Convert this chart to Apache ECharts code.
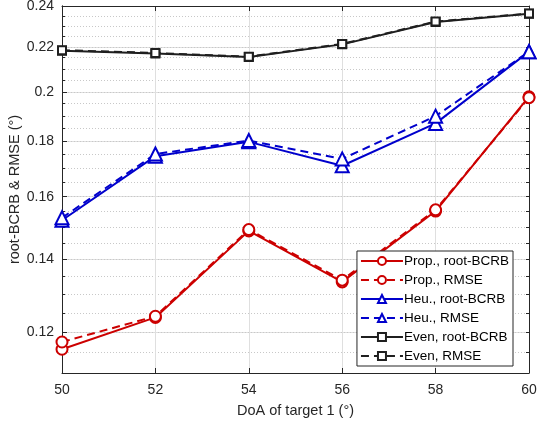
<!DOCTYPE html>
<html><head><meta charset="utf-8">
<script src="https://cdn.jsdelivr.net/npm/echarts@6/dist/echarts.min.js"></script>
<style>html,body{margin:0;padding:0;background:#fff}#c{width:538px;height:425px}</style>
</head><body><div id="c"></div>
<script>
const doa = [50, 52, 54, 56, 58, 60];
const propBCRB = [0.1157, 0.1238, 0.1488, 0.1335, 0.1552, 0.1979];
const propRMSE = [0.1175, 0.1241, 0.1492, 0.1340, 0.1556, 0.1975];
const heuBCRB  = [0.1522, 0.1744, 0.1798, 0.1709, 0.1870, 0.2178];
const heuRMSE  = [0.1530, 0.1752, 0.1803, 0.1734, 0.1899, 0.2178];
const evenBCRB = [0.2182, 0.2170, 0.2153, 0.2212, 0.2320, 0.2361];
const evenRMSE = [0.2185, 0.2172, 0.2155, 0.2214, 0.2322, 0.2362];
const yMajor = [0.12, 0.14, 0.16, 0.18, 0.2, 0.22, 0.24];
const yMinor = [0.115, 0.125, 0.13, 0.135, 0.145, 0.15, 0.155, 0.165, 0.17, 0.175, 0.185, 0.19, 0.195, 0.205, 0.21, 0.215, 0.225, 0.23, 0.235];
const names = ['Prop., root-BCRB','Prop., RMSE','Heu., root-BCRB','Heu., RMSE','Even, root-BCRB','Even, RMSE'];

const RED = '#cc0000', BLUE = '#0000cc', BLK = '#1f1f1f';
const TXT = '#262626';
const FONT = '"Liberation Sans", Arial, sans-serif';
const pair = (ys) => doa.map((x, i) => [x, ys[i]]);
function mk(name, ys, color, dashed, symbol, size) {
  return {
    name, type: 'line', data: pair(ys), xAxisIndex: 0, yAxisIndex: 0,
    symbol, symbolSize: size, showAllSymbol: true,
    lineStyle: { color, width: 2, type: dashed ? [8, 5] : 'solid' },
    itemStyle: { color: '#fff', borderColor: color, borderWidth: 2 },
    emphasis: { disabled: true }, animation: false
  };
}
const chart = echarts.init(document.getElementById('c'), null, { renderer: 'canvas' });
const allY = yMajor.concat(yMinor);
const boxAxis = (pos, ticks, len, split) => ({
  type: 'log', logBase: 10, min: 0.11, max: 0.24, position: pos,
  axisLine: { show: true, lineStyle: { color: TXT, width: 1 } },
  axisTick: { show: true, inside: true, length: len, customValues: ticks, lineStyle: { color: TXT } },
  axisLabel: { show: false, customValues: ticks },
  splitLine: split ? { show: true, lineStyle: { color: '#c8c8c8', width: 1, type: [1, 2] } } : { show: false }
});
chart.setOption({
  animation: false,
  textStyle: { fontFamily: FONT },
  grid: { left: 62, right: 9, top: 6, bottom: 52, containLabel: false, outerBoundsMode: 'none' },
  legend: {
    right: 25, top: 251, orient: 'vertical',
    itemWidth: 42, itemHeight: 10, itemGap: 5,
    backgroundColor: '#fff', borderColor: TXT, borderWidth: 1, borderRadius: 0,
    padding: [3, 4, 3, 3],
    textStyle: { fontFamily: FONT, fontSize: 13.5, color: '#000', padding: [0, 0, 0, -4] },
    data: names
  },
  xAxis: [{
    type: 'value', min: 50, max: 60, interval: 2,
    name: 'DoA of target 1 (°)', nameLocation: 'middle', nameGap: 30, nameMoveOverlap: false,
    nameTextStyle: { fontFamily: FONT, fontSize: 14.5, color: TXT },
    axisLine: { show: true, lineStyle: { color: TXT, width: 1 } },
    axisTick: { show: true, inside: true, length: 5, lineStyle: { color: TXT } },
    axisLabel: { fontFamily: FONT, fontSize: 14, color: TXT, margin: 10 },
    splitLine: { show: true, lineStyle: { color: '#dfdfdf', width: 1 } }
  }, {
    type: 'value', min: 50, max: 60, interval: 2, position: 'top',
    axisLine: { show: true, lineStyle: { color: TXT, width: 1 } },
    axisTick: { show: true, inside: true, length: 5, lineStyle: { color: TXT } },
    axisLabel: { show: false }, splitLine: { show: false }
  }],
  yAxis: [{
    type: 'log', logBase: 10, min: 0.11, max: 0.24, position: 'left',
    name: 'root-BCRB & RMSE (°)', nameLocation: 'middle', nameGap: 40, nameRotate: 90, nameMoveOverlap: false,
    nameTextStyle: { fontFamily: FONT, fontSize: 14.5, color: TXT },
    axisLine: { show: true, lineStyle: { color: TXT, width: 1 } },
    axisTick: { show: true, inside: true, length: 5, customValues: yMajor, lineStyle: { color: TXT } },
    axisLabel: { fontFamily: FONT, fontSize: 14, color: TXT, margin: 8, customValues: yMajor,
      formatter: (v) => String(Math.round(v * 1000) / 1000) },
    splitLine: { show: true, lineStyle: { color: '#dfdfdf', width: 1 } },
    minorTick: { show: false }, minorSplitLine: { show: false }
  },
  boxAxis('right', allY, 3, true),
  boxAxis('left', yMinor, 3, false)
  ],
  series: [
    mk(names[0], propBCRB, RED, false, 'circle', 11),
    mk(names[1], propRMSE, RED, true, 'circle', 11),
    mk(names[2], heuBCRB, BLUE, false, 'triangle', 13),
    mk(names[3], heuRMSE, BLUE, true, 'triangle', 13),
    mk(names[4], evenBCRB, BLK, false, 'rect', 8),
    mk(names[5], evenRMSE, BLK, true, 'rect', 8)
  ]
});
</script></body></html>
